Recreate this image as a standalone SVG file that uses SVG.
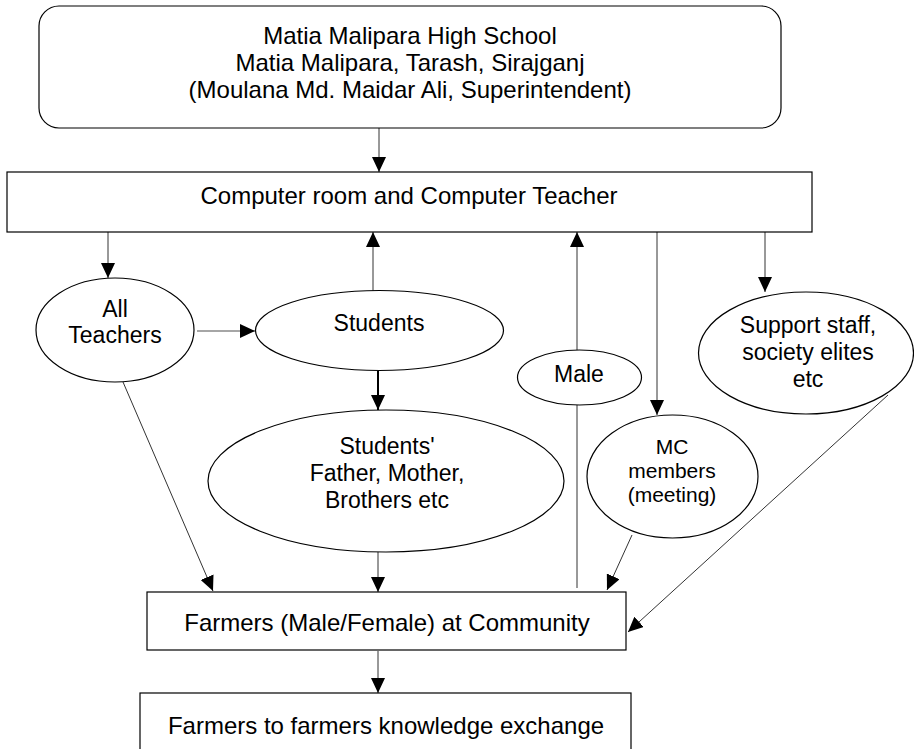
<svg xmlns="http://www.w3.org/2000/svg" width="914" height="749" viewBox="0 0 914 749">
<defs>
<style>
.box{fill:#fff;stroke:#000;stroke-width:1.2}
.t{font-family:"Liberation Sans",Arial,sans-serif;font-size:24px;fill:#000;text-anchor:middle}
.te{font-family:"Liberation Sans",Arial,sans-serif;font-size:23px;fill:#000;text-anchor:middle}
.ts{font-family:"Liberation Sans",Arial,sans-serif;font-size:21px;fill:#000;text-anchor:middle}
.c{fill:none;stroke:#333;stroke-width:1}
.a{marker-end:url(#ah)}
</style>
<marker id="ah" markerUnits="userSpaceOnUse" markerWidth="15" markerHeight="14" refX="15" refY="7" orient="auto">
<path d="M0,0 L15,7 L0,14 Z" fill="#000"/>
</marker>
</defs>
<rect width="914" height="749" fill="#fff"/>
<g id="connectors">
<line class="c a" x1="379" y1="128" x2="379" y2="172"/>
<line class="c a" x1="108" y1="232" x2="108" y2="278"/>
<line class="c a" x1="197" y1="331" x2="255" y2="331" style="stroke:#888;stroke-width:1.6"/>
<line class="c a" x1="373" y1="291" x2="373" y2="232"/>
<line class="c a" x1="378" y1="371" x2="378" y2="410" style="stroke:#000;stroke-width:2"/>
<line class="c a" x1="577" y1="350" x2="577" y2="232"/>
<line class="c" x1="577" y1="588" x2="577" y2="405"/>
<line class="c a" x1="657" y1="232" x2="657" y2="415"/>
<line class="c a" x1="765" y1="232" x2="765" y2="292"/>
<line class="c a" x1="123" y1="382" x2="213" y2="591"/>
<line class="c a" x1="378" y1="552" x2="378" y2="592"/>
<line class="c a" x1="632" y1="535" x2="607" y2="590"/>
<line class="c a" x1="888" y1="395" x2="628" y2="632"/>
<line class="c a" x1="378" y1="651" x2="378" y2="693"/>
</g>
<g id="school">
<rect class="box" x="39" y="6" width="742" height="122" rx="20" ry="20"/>
<text class="t" x="410" y="44">Matia Malipara High School</text>
<text class="t" x="410" y="71">Matia Malipara, Tarash, Sirajganj</text>
<text class="t" x="410" y="98">(Moulana Md. Maidar Ali, Superintendent)</text>
</g>
<g id="computer">
<rect class="box" x="7" y="172" width="805" height="60"/>
<text class="t" x="409" y="204">Computer room and Computer Teacher</text>
</g>
<g id="teachers">
<ellipse class="box" cx="115" cy="330" rx="79" ry="52"/>
<text class="te" x="115" y="317">All</text>
<text class="te" x="115" y="343">Teachers</text>
</g>
<g id="students">
<ellipse class="box" cx="379.5" cy="330.5" rx="124" ry="40"/>
<text class="te" x="379" y="331">Students</text>
</g>
<g id="parents">
<ellipse class="box" cx="386" cy="481" rx="178" ry="71"/>
<text class="te" x="387" y="454">Students'</text>
<text class="te" x="387" y="481">Father, Mother,</text>
<text class="te" x="387" y="508">Brothers etc</text>
</g>
<g id="male">
<ellipse class="box" cx="579.5" cy="377.5" rx="62" ry="27.5"/>
<text class="te" x="579" y="382">Male</text>
</g>
<g id="mc">
<ellipse class="box" cx="672.5" cy="476.5" rx="85.5" ry="61.5"/>
<text class="ts" x="672" y="454">MC</text>
<text class="ts" x="672" y="478">members</text>
<text class="ts" x="672" y="502">(meeting)</text>
</g>
<g id="support">
<ellipse class="box" cx="806" cy="353" rx="107.5" ry="61"/>
<text class="te" x="808" y="333">Support staff,</text>
<text class="te" x="808" y="360">society elites</text>
<text class="te" x="808" y="387">etc</text>
</g>
<g id="farmers">
<rect class="box" x="147" y="592" width="479" height="58"/>
<text class="t" x="387" y="631">Farmers (Male/Female) at Community</text>
</g>
<g id="exchange">
<rect class="box" x="140" y="693" width="491" height="70"/>
<text class="t" x="386" y="734">Farmers to farmers knowledge exchange</text>
</g>
</svg>
